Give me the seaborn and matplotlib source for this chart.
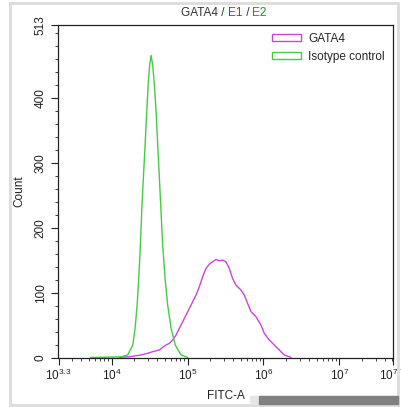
import numpy as np
import pandas as pd
import matplotlib
matplotlib.use("Agg")
import matplotlib.pyplot as plt
import seaborn as sns
from matplotlib.patches import Patch, Rectangle
from matplotlib.ticker import MultipleLocator, FixedLocator

# valeurs (x en exposant log10, y en nombre d'événements)
iso_log = [3.72, 3.90, 4.125, 4.212, 4.278, 4.309, 4.336, 4.357, 4.379, 4.396, 4.418,
           4.441, 4.462, 4.484, 4.501, 4.52, 4.541, 4.563, 4.586, 4.607, 4.629, 4.651,
           4.672, 4.704, 4.738, 4.783, 4.839, 4.914, 5.001]
iso_count = [0, 0.5, 1, 4, 19, 45, 81, 122, 174, 225, 277,
             328, 379, 426, 451, 466, 451, 421, 379, 328, 277, 225,
             174, 122, 81, 45, 19, 4, 0]

gata_log = [4.103, 4.234, 4.366, 4.475, 4.541, 4.629, 4.672, 4.717, 4.761, 4.804,
            4.849, 4.892, 4.936, 4.98, 5.024, 5.068, 5.112, 5.155, 5.199, 5.243,
            5.287, 5.330, 5.375, 5.418, 5.462, 5.506, 5.55, 5.593, 5.638, 5.704,
            5.747, 5.791, 5.836, 5.901, 5.967, 6.011, 6.076, 6.142, 6.208, 6.274, 6.362]
gata_count = [0.3, 1.2, 3.4, 6.5, 9, 11.6, 15.7, 19.3, 21.9, 27,
              34.7, 45, 55, 65.5, 75.7, 86, 96.4, 109, 124.6, 137.4,
              144, 147.6, 151.3, 149.2, 150.3, 147.6, 137.4, 122, 111.7, 104,
              96.4, 83.6, 70.7, 63, 50.1, 37.3, 27, 19.3, 11.6, 3.9, 0.3]

xtick_exp = [3.3, 4, 5, 6, 7, 7.7]
xtick_labels = ["$10^{3.3}$", "$10^{4}$", "$10^{5}$", "$10^{6}$", "$10^{7}$", "$10^{7.7}$"]
ytick_vals = [0, 100, 200, 300, 400, 513]

col_gata = "#cc44dd"
col_iso = "#44cc44"

sns.set_style("white")
plt.rcParams["font.family"] = ["Liberation Sans", "DejaVu Sans"]
plt.rcParams["mathtext.default"] = "regular"

df_iso = pd.DataFrame({"FITC": np.power(10.0, iso_log), "Count": iso_count})
df_gata = pd.DataFrame({"FITC": np.power(10.0, gata_log), "Count": gata_count})

fig = plt.figure(figsize=(4.01, 4.07), dpi=100)
ax = fig.add_axes([58.5 / 401, 1 - 357.5 / 407, 334 / 401, 332.5 / 407])
ax.set_xscale("log")

sns.lineplot(data=df_gata, x="FITC", y="Count", color=col_gata, lw=1, ax=ax)
sns.lineplot(data=df_iso, x="FITC", y="Count", color=col_iso, lw=1, ax=ax)

ax.set_xlim(10 ** 3.3, 10 ** 7.7)
ax.set_ylim(0, 513)
ax.xaxis.set_major_locator(FixedLocator([10 ** e for e in xtick_exp]))
ax.set_xticklabels(xtick_labels)
ax.set_yticks(ytick_vals)
ax.yaxis.set_minor_locator(MultipleLocator(20))
for lab in ax.get_yticklabels():
    lab.set_rotation(90)
    lab.set_va("center")
ax.tick_params(axis="both", which="major", direction="out", length=5, width=0.8,
               labelsize=8.5, colors="#222222", bottom=True, left=True)
ax.tick_params(axis="x", which="major", pad=2.5)
ax.tick_params(axis="both", which="minor", direction="out", length=2.5, width=0.6,
               bottom=True, left=True)
for s in ax.spines.values():
    s.set_color("#222222")
    s.set_linewidth(0.9)

ax.set_xlabel("FITC-A", fontsize=8.5, color="#222222", labelpad=5.0)
ax.set_ylabel("Count", fontsize=8.5, color="#222222", labelpad=6.5)

handles = [Patch(facecolor="white", edgecolor=col_gata, label="GATA4"),
           Patch(facecolor="white", edgecolor=col_iso, label="Isotype control")]
ax.legend(handles=handles, loc="upper right", frameon=False, fontsize=8.5,
          handlelength=2.5, handleheight=0.6, handletextpad=0.6, labelspacing=0.5,
          borderaxespad=0.25)

# titre en trois couleurs
t1 = fig.text(0.452, 1 - 13 / 407, "GATA4 / ", fontsize=8.5, color="#333333",
              ha="left", va="center")
t2 = ax.annotate("E1", xy=(1, 0), xycoords=t1, fontsize=8.5, color="#e01818",
                 ha="left", va="bottom")
t3 = ax.annotate(" / ", xy=(1, 0), xycoords=t2, fontsize=8.5, color="#333333",
                 ha="left", va="bottom")
ax.annotate("E2", xy=(1, 0), xycoords=t3, fontsize=8.5, color="#1a9a1a",
            ha="left", va="bottom")

# cadre gris et barre de défilement
fig.patches.append(Rectangle((10 / 401, 1 - 405 / 407), 388 / 401, 402 / 407,
                             transform=fig.transFigure, fill=False,
                             edgecolor="#dcdcdc", lw=2))
fig.patches.append(Rectangle((250 / 401, 1 - 404 / 407), 9 / 401, 8 / 407,
                             transform=fig.transFigure, color="#e6e6e6"))
fig.patches.append(Rectangle((259 / 401, 1 - 404 / 407), 139 / 401, 8 / 407,
                             transform=fig.transFigure, color="#808080"))

plt.savefig("out.png", dpi=100)
